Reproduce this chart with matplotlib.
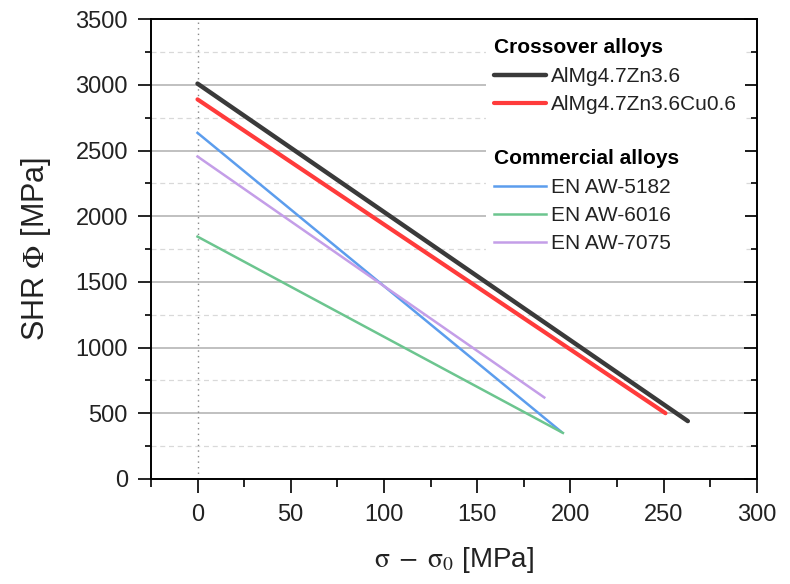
import matplotlib
matplotlib.use("Agg")
import matplotlib.pyplot as plt
import matplotlib.text as mtext
from matplotlib.ticker import MultipleLocator

# stress offset sigma - sigma0 [MPa] (start, end) and SHR [MPa]
x_black = [0, 263]
y_black = [3010, 440]
x_red = [0, 251]
y_red = [2890, 500]
x_blue = [0, 195]
y_blue = [2635, 360]
x_green = [0, 196]
y_green = [1845, 350]
x_purple = [0, 186]
y_purple = [2455, 620]

lab_black = "AlMg4.7Zn3.6"
lab_red = "AlMg4.7Zn3.6Cu0.6"
lab_blue = "EN AW-5182"
lab_green = "EN AW-6016"
lab_purple = "EN AW-7075"

plt.rcParams['font.family'] = ['Liberation Sans', 'DejaVu Sans']
plt.rcParams['mathtext.fontset'] = 'stix'


class Header:
    def __init__(self, text):
        self.text = text


class HeaderHandler:
    def legend_artist(self, legend, orig_handle, fontsize, handlebox):
        t = mtext.Text(-handlebox.xdescent, -handlebox.ydescent + handlebox.height / 2,
                       orig_handle.text, fontsize=fontsize, fontweight='bold',
                       va='center', ha='left', color='black')
        handlebox.add_artist(t)
        return t


fig = plt.figure(figsize=(7.9, 5.84), dpi=100)
ax = fig.add_axes([0.191, 0.180, 0.767, 0.787])

ax.plot(x_black, y_black, color='#3a3a3a', lw=3.2, solid_capstyle='round', label=lab_black, zorder=4)
ax.plot(x_red, y_red, color='#ff3b3b', lw=3.0, solid_capstyle='round', label=lab_red, zorder=4)
ax.plot(x_blue, y_blue, color='#5c9ded', lw=1.8, label=lab_blue, zorder=3)
ax.plot(x_green, y_green, color='#6cc58f', lw=1.8, label=lab_green, zorder=3)
ax.plot(x_purple, y_purple, color='#c49ee8', lw=1.8, label=lab_purple, zorder=3)

ax.axvline(0, color='#888888', lw=1.0, ls=(0, (1, 3)), zorder=2)

ax.set_xlim(-25, 300)
ax.set_ylim(0, 3500)
ax.xaxis.set_major_locator(MultipleLocator(50))
ax.xaxis.set_minor_locator(MultipleLocator(25))
ax.yaxis.set_major_locator(MultipleLocator(500))
ax.yaxis.set_minor_locator(MultipleLocator(250))

ax.set_axisbelow(True)
ax.grid(axis='y', which='major', color='#b5b5b5', lw=1.2, ls='-')
ax.grid(axis='y', which='minor', color='#d9d9d9', lw=0.9, ls=(0, (4, 3)))

for s in ax.spines.values():
    s.set_linewidth(1.4)
ax.tick_params(axis='x', which='both', direction='out', top=False, width=1.2,
               labelsize=17, labelcolor='#222222', pad=8)
ax.tick_params(axis='x', which='major', length=10)
ax.tick_params(axis='x', which='minor', length=5.5)
ax.tick_params(axis='y', which='both', left=True, right=True, width=1.2,
               labelsize=17, labelcolor='#222222', pad=7)
ax.tick_params(axis='y', which='major', length=9.5)
ax.tick_params(axis='y', which='minor', length=4)
# right-hand ticks point inward, left ones outward
for t in ax.yaxis.get_major_ticks() + ax.yaxis.get_minor_ticks():
    t.tick2line.set_marker(0)

ax.set_ylabel(r'SHR $\Phi$ [MPa]', fontsize=22, color='#222222', labelpad=16)
ax.set_xlabel(r'$\mathrm{\sigma}\;-\;\mathrm{\sigma}_{0}$ [MPa]', fontsize=20,
              color='#222222', labelpad=14)

h = ax.get_legend_handles_labels()[0]
handles = [Header('Crossover alloys'), h[0], h[1], Header(''), Header('Commercial alloys'), h[2], h[3], h[4]]
labels = ['', lab_black, lab_red, '', '', lab_blue, lab_green, lab_purple]
leg = ax.legend(handles, labels, handler_map={Header: HeaderHandler()},
                loc='upper left', bbox_to_anchor=(0.553, 0.974), fontsize=15,
                handlelength=2.5, handletextpad=0.2, labelspacing=0.42,
                borderpad=0.4, borderaxespad=0, frameon=True, fancybox=False,
                facecolor='white', edgecolor='none', framealpha=1.0)
for t in leg.get_texts():
    t.set_color('#222222')

fig.savefig('out.png', dpi=100)
